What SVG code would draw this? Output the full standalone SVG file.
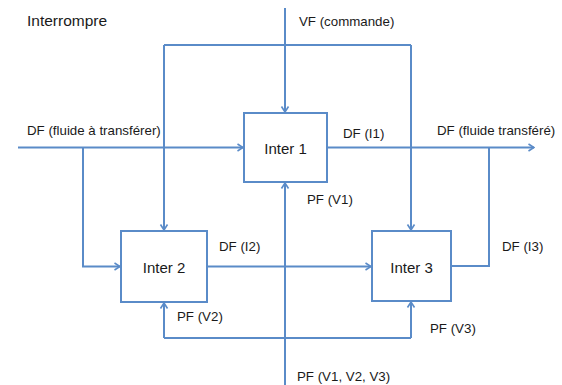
<svg xmlns="http://www.w3.org/2000/svg" width="562" height="385" viewBox="0 0 562 385">
<style>
.box{fill:#ffffff;stroke:#5a8bc8;stroke-width:2}
.ln{fill:none;stroke:#5a8bc8;stroke-width:2}
.arr{marker-end:url(#arr)}
.t{font-family:"Liberation Sans",Arial,sans-serif;fill:#1a1a1a}
.lbl{font-size:13.3px}
.node{font-size:15px;text-anchor:middle}
.title{font-size:15.5px}
</style>
<defs>
<marker id="arr" viewBox="0 0 10 10" refX="9" refY="5" markerWidth="10" markerHeight="10" markerUnits="userSpaceOnUse" orient="auto">
<path d="M3.5,1.5 L9,5 L3.5,8.5" fill="none" stroke="#5a8bc8" stroke-width="1.6"/>
</marker>
</defs>
<rect width="562" height="385" fill="#ffffff"/>
<g id="connectors">
<path class="ln arr" d="M285,8 V112"/>
<path class="ln" d="M164,45 H411"/>
<path class="ln arr" d="M164,45 V230"/>
<path class="ln arr" d="M411,45 V230"/>
<path class="ln arr" d="M18,147.5 H243"/>
<path class="ln arr" d="M328,147.5 H534"/>
<path class="ln arr" d="M83,147.5 V266.5 H120"/>
<path class="ln" d="M489,147.5 V266 H452"/>
<path class="ln arr" d="M208,266.5 H371"/>
<path class="ln arr" d="M285,385 V183"/>
<path class="ln" d="M164,338 H411"/>
<path class="ln arr" d="M164,338 V303"/>
<path class="ln arr" d="M411,338 V302"/>
</g>
<g id="inter1">
<rect class="box" x="244" y="113" width="83" height="69"/>
<text class="t node" x="285.5" y="154">Inter 1</text>
</g>
<g id="inter2">
<rect class="box" x="121" y="231" width="86" height="71"/>
<text class="t node" x="164" y="272.5">Inter 2</text>
</g>
<g id="inter3">
<rect class="box" x="372" y="231" width="79" height="70"/>
<text class="t node" x="411.5" y="273">Inter 3</text>
</g>
<g id="labels">
<text class="t title" x="27" y="26">Interrompre</text>
<text class="t lbl" x="299" y="26">VF (commande)</text>
<text class="t lbl" x="27" y="135">DF (fluide à transférer)</text>
<text class="t lbl" x="343" y="138">DF (I1)</text>
<text class="t lbl" x="437" y="135">DF (fluide transféré)</text>
<text class="t lbl" x="307" y="204">PF (V1)</text>
<text class="t lbl" x="219" y="251">DF (I2)</text>
<text class="t lbl" x="502" y="251">DF (I3)</text>
<text class="t lbl" x="177" y="321">PF (V2)</text>
<text class="t lbl" x="430" y="333">PF (V3)</text>
<text class="t lbl" x="297" y="381">PF (V1, V2, V3)</text>
</g>
</svg>
